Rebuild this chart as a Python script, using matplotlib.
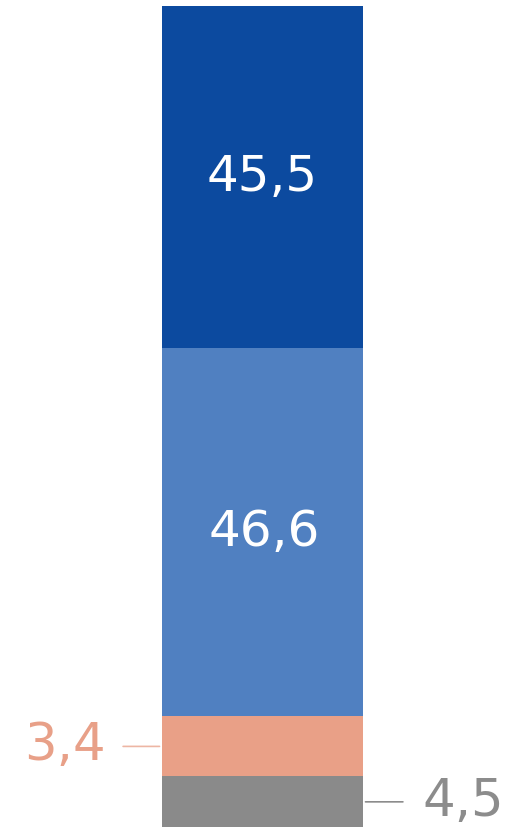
import matplotlib
matplotlib.use("Agg")
import matplotlib.pyplot as plt

# -------------------------
# Data (bottom to top)
# -------------------------
values = [4.5, 3.4, 46.6, 45.5]            # printed labels
labels = ["4,5", "3,4", "46,6", "45,5"]
# segment heights as they appear in the picture (share of the bar, %)
shares = [6.2, 7.3, 44.8, 41.7]
colors = ["#8A8A8A", "#E9A087", "#5080C1", "#0C4A9F"]

# -------------------------
# Figure
# -------------------------
W, H, DPI = 505, 834, 100
fig = plt.figure(figsize=(W / DPI, H / DPI), dpi=DPI)
fig.patch.set_facecolor("white")
ax = fig.add_axes([162.3 / W, 6.7 / H, 200.4 / W, 821.3 / H])
ax.set_xlim(-0.5, 0.5)
ax.set_ylim(0, sum(shares))
ax.axis("off")

bottom = 0
mids = []
for h, c in zip(shares, colors):
    ax.bar(0, h, width=1.0, bottom=bottom, color=c, linewidth=0)
    mids.append(bottom + h / 2)
    bottom += h

font = "DejaVu Sans"

# values inside the two blue segments
ax.text(0, mids[3], labels[3], ha="center", va="center", color="white",
        fontsize=36, family=font)
ax.text(0.01, mids[2], labels[2], ha="center", va="center", color="white",
        fontsize=36, family=font)

# salmon: label on the left with leader line
ax.annotate("", xy=(-0.5, mids[1]), xytext=(-42, 0), textcoords="offset pixels",
            arrowprops=dict(arrowstyle="-", color="#EDB6A4", lw=1.2),
            annotation_clip=False)
ax.annotate(labels[1], xy=(-0.5, mids[1]), xytext=(-57, 0),
            textcoords="offset pixels", ha="right", va="center",
            color="#E8A088", fontsize=37, family=font, annotation_clip=False)

# gray: label on the right with leader line
ax.annotate("", xy=(0.5, mids[0]), xytext=(43, 0), textcoords="offset pixels",
            arrowprops=dict(arrowstyle="-", color="#8C8C8C", lw=1.2),
            annotation_clip=False)
ax.annotate(labels[0], xy=(0.5, mids[0]), xytext=(60, 0),
            textcoords="offset pixels", ha="left", va="center",
            color="#8C8C8C", fontsize=37, family=font, annotation_clip=False)

fig.savefig("out.png", dpi=DPI)
